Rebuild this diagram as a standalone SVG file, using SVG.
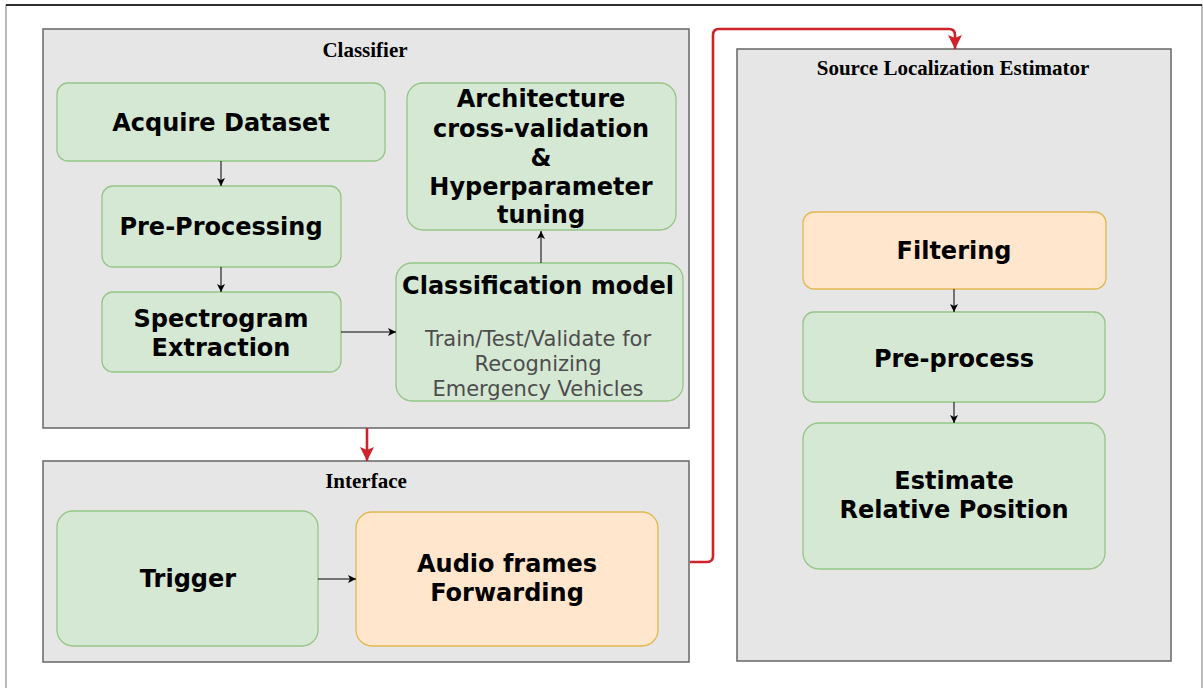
<svg xmlns="http://www.w3.org/2000/svg" width="1203" height="688" viewBox="0 0 1203 688">
  <style>
    .frame { fill: #ffffff; stroke: #8c8c8c; stroke-width: 1.2; }
    .group { fill: #e6e6e6; stroke: #666666; stroke-width: 1.5; }
    .green { fill: #d5e8d4; stroke: #97c587; stroke-width: 1.3; }
    .orange { fill: #ffe6cc; stroke: #e2b850; stroke-width: 1.3; }
    .title { font-family: "Liberation Serif", "Times New Roman", serif; font-weight: bold; font-size: 21px; fill: #000; text-anchor: middle; }
    .lbl { font-family: "DejaVu Sans", Verdana, sans-serif; font-weight: bold; font-size: 24px; fill: #000; text-anchor: middle; }
    .sub { font-family: "DejaVu Sans", Verdana, sans-serif; font-size: 21px; fill: #4d4d4d; text-anchor: middle; }
    .edge { fill: none; stroke: #000; stroke-width: 1; }
    .flow { fill: none; stroke: #d0222b; stroke-width: 2.6; }
  </style>
  <defs>
    <marker id="tip" markerUnits="userSpaceOnUse" markerWidth="9" markerHeight="9" refX="8" refY="4" orient="auto">
      <path d="M0,0 L8,4 L0,8 L2,4 z" fill="#000"/>
    </marker>
    <marker id="tipRed" markerUnits="userSpaceOnUse" markerWidth="16" markerHeight="16" refX="14" refY="7" orient="auto">
      <path d="M0,0 L14,7 L0,14 L3,7 z" fill="#d0222b"/>
    </marker>
  </defs>

  <!-- page frame -->
  <rect class="frame" x="6" y="5" width="1196" height="700"/>
  <line x1="6" y1="5" x2="1202" y2="5" stroke="#000" stroke-width="1.5"/>

  <!-- containers -->
  <g id="classifier">
    <rect class="group" x="43" y="29" width="646" height="399"/>
    <text class="title" x="365" y="57">Classifier</text>
  </g>
  <g id="interface">
    <rect class="group" x="43" y="461" width="646" height="201"/>
    <text class="title" x="366" y="488">Interface</text>
  </g>
  <g id="source-localization">
    <rect class="group" x="737" y="49" width="434" height="612"/>
    <text class="title" x="953" y="75">Source Localization Estimator</text>
  </g>

  <!-- classifier steps -->
  <g id="acquire-dataset">
    <rect class="green" x="57" y="83" width="328" height="78" rx="11"/>
    <text class="lbl" x="221" y="131">Acquire Dataset</text>
  </g>
  <g id="pre-processing">
    <rect class="green" x="102" y="186" width="239" height="81" rx="11"/>
    <text class="lbl" x="221" y="235">Pre-Processing</text>
  </g>
  <g id="spectrogram-extraction">
    <rect class="green" x="102" y="292" width="239" height="80" rx="11"/>
    <text class="lbl" x="221" y="327">Spectrogram</text>
    <text class="lbl" x="221" y="356">Extraction</text>
  </g>
  <g id="architecture-tuning">
    <rect class="green" x="407" y="83" width="269" height="147" rx="16"/>
    <text class="lbl" x="541" y="107">Architecture</text>
    <text class="lbl" x="541" y="137">cross-validation</text>
    <text class="lbl" x="541" y="166">&amp;</text>
    <text class="lbl" x="541" y="195">Hyperparameter</text>
    <text class="lbl" x="541" y="223">tuning</text>
  </g>
  <g id="classification-model">
    <rect class="green" x="396" y="263" width="287" height="138" rx="16"/>
    <text class="lbl" x="538" y="294">Classification model</text>
    <text class="sub" x="538" y="346">Train/Test/Validate for</text>
    <text class="sub" x="538" y="371">Recognizing</text>
    <text class="sub" x="538" y="396">Emergency Vehicles</text>
  </g>

  <!-- interface steps -->
  <g id="trigger">
    <rect class="green" x="57" y="511" width="261" height="135" rx="16"/>
    <text class="lbl" x="188" y="587">Trigger</text>
  </g>
  <g id="audio-forwarding">
    <rect class="orange" x="356" y="512" width="302" height="134" rx="16"/>
    <text class="lbl" x="507" y="572">Audio frames</text>
    <text class="lbl" x="507" y="601">Forwarding</text>
  </g>

  <!-- localization steps -->
  <g id="filtering">
    <rect class="orange" x="803" y="212" width="303" height="77" rx="11"/>
    <text class="lbl" x="954" y="259">Filtering</text>
  </g>
  <g id="pre-process">
    <rect class="green" x="803" y="312" width="302" height="90" rx="11"/>
    <text class="lbl" x="954" y="367">Pre-process</text>
  </g>
  <g id="estimate-position">
    <rect class="green" x="803" y="423" width="302" height="146" rx="16"/>
    <text class="lbl" x="954" y="489">Estimate</text>
    <text class="lbl" x="954" y="518">Relative Position</text>
  </g>

  <!-- connectors -->
  <g id="connectors">
    <path class="edge" d="M221,161 V186" marker-end="url(#tip)"/>
    <path class="edge" d="M221,267 V292" marker-end="url(#tip)"/>
    <path class="edge" d="M341,332 H396" marker-end="url(#tip)"/>
    <path class="edge" d="M541,263 V231" marker-end="url(#tip)"/>
    <path class="edge" d="M318,579 H356" marker-end="url(#tip)"/>
    <path class="edge" d="M954,289 V312" marker-end="url(#tip)"/>
    <path class="edge" d="M954,402 V423" marker-end="url(#tip)"/>
    <path class="flow" d="M367,428 V461" marker-end="url(#tipRed)"/>
    <path class="flow" d="M690,562 H707 Q713,562 713,556 V35 Q713,29 719,29 H949 Q955,29 955,35 V49" marker-end="url(#tipRed)"/>
  </g>
</svg>
